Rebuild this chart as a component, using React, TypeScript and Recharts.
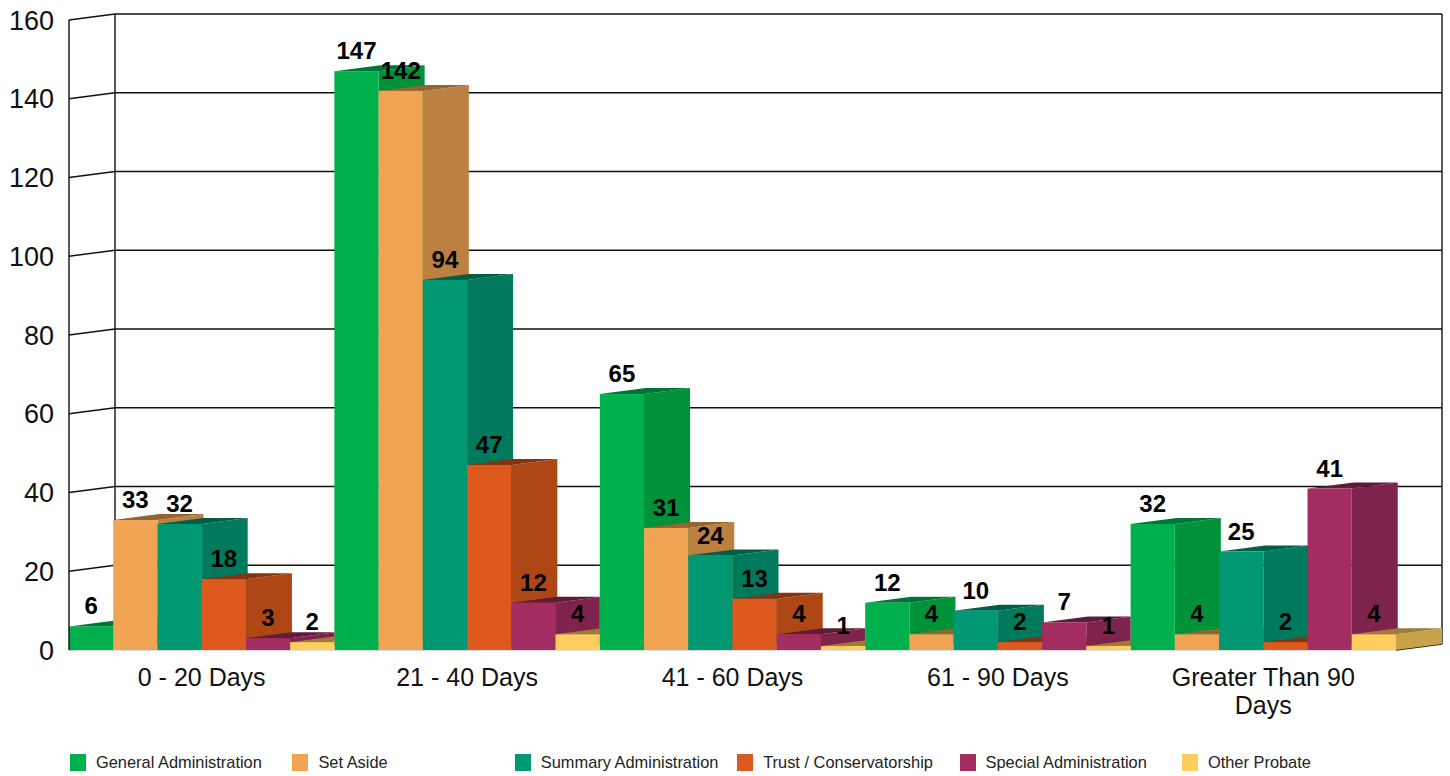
import React from 'react';
import { BarChart, Bar, XAxis, YAxis, CartesianGrid, Legend, LabelList } from 'recharts';

const categories = ['0 - 20 Days', '21 - 40 Days', '41 - 60 Days', '61 - 90 Days', 'Greater Than 90 Days'];
const generalAdministration = [6, 147, 65, 12, 32];
const setAside = [33, 142, 31, 4, 4];
const summaryAdministration = [32, 94, 24, 10, 25];
const trustConservatorship = [18, 47, 13, 2, 2];
const specialAdministration = [3, 12, 4, 7, 41];
const otherProbate = [2, 4, 1, 1, 4];
const yTicks = [0, 20, 40, 60, 80, 100, 120, 140, 160];

const data = categories.map((category, i) => ({
  category,
  general: generalAdministration[i],
  setAside: setAside[i],
  summary: summaryAdministration[i],
  trust: trustConservatorship[i],
  special: specialAdministration[i],
  other: otherProbate[i],
}));

const DX = 46;
const DY = 6;
const FONT = '"Liberation Sans", Arial, sans-serif';
const LAST = categories[categories.length - 1];

type Limit = 'none' | 'two' | 'one';

const makeShape = (side: string, top: string, limit: Limit, idBase: string) => (p: any) => {
  const { x, y, width: w, height: h, fill, payload } = p;
  const bottom = y + h;
  const isLast = payload?.category === LAST;
  const span = isLast || limit === 'none' ? w + DX + 2 : limit === 'two' ? 2 * w : w;
  const id = `clip-${idBase}-${categories.indexOf(payload?.category)}`;
  return (
    <g>
      <clipPath id={id}>
        <rect x={x} y={0} width={span} height={776} />
      </clipPath>
      <g clipPath={`url(#${id})`}>
        <polygon points={`${x + w},${y} ${x + w + DX},${y - DY} ${x + w + DX},${bottom - DY} ${x + w},${bottom}`} fill={side} />
        <polygon points={`${x},${y} ${x + w},${y} ${x + w + DX},${y - DY} ${x + DX},${y - DY}`} fill={top} />
      </g>
      <rect x={x} y={y} width={w} height={h} fill={fill} />
    </g>
  );
};

const series = [
  { key: 'general', name: 'General Administration', fill: '#00B04C', side: '#009238', top: '#00753A', limit: 'none' as Limit },
  { key: 'setAside', name: 'Set Aside', fill: '#F0A453', side: '#BC8040', top: '#93652F', limit: 'none' as Limit },
  { key: 'summary', name: 'Summary Administration', fill: '#009873', side: '#007A5C', top: '#005F47', limit: 'none' as Limit },
  { key: 'trust', name: 'Trust / Conservatorship', fill: '#DE591E', side: '#AE4616', top: '#833412', limit: 'none' as Limit },
  { key: 'special', name: 'Special Administration', fill: '#A32D61', side: '#7E234C', top: '#611B3A', limit: 'two' as Limit },
  { key: 'other', name: 'Other Probate', fill: '#FFCE5F', side: '#C8A24A', top: '#9B7D38', limit: 'one' as Limit },
];

const BarLabel = (p: any) => (
  <text x={p.x + p.width / 2} y={p.y - 12} textAnchor="middle" fontFamily={FONT} fontWeight="bold" fontSize={24} fill="#000">
    {p.value}
  </text>
);

const CategoryTick = (p: any) => {
  const label: string = p.payload.value;
  const words = label.split(' ');
  const lines = label.length > 15 ? [words.slice(0, -1).join(' '), words[words.length - 1]] : [label];
  return (
    <text x={p.x} y={p.y} textAnchor="middle" fontFamily={FONT} fontSize={25} fill="#111">
      {lines.map((l, i) => (
        <tspan key={i} x={p.x} dy={28}>{l}</tspan>
      ))}
    </text>
  );
};

const GridH = (p: any) => {
  const { x1, y1, x2 } = p;
  const floor = Math.abs(y1 - (p.y + p.height)) < 1;
  return (
    <g key={p.key ?? y1}>
      <polyline points={`${x1},${y1} ${x1 + DX},${y1 - DY} ${x2 + DX},${y1 - DY}`} fill="none" stroke="#111" strokeWidth={1.4} />
      {floor && <line x1={x1} y1={y1} x2={x2} y2={y1} stroke="#d4d4d4" strokeWidth={1.5} />}
      {floor && <line x1={x2} y1={y1} x2={x2 + DX} y2={y1 - DY} stroke="#111" strokeWidth={1.4} />}
    </g>
  );
};

const GridV = (p: any) => (
  <line key={p.key ?? p.x1} x1={p.x1 + DX} y1={p.y1 - DY} x2={p.x2 + DX} y2={p.y2 - DY} stroke="#111" strokeWidth={1.4} />
);

const LegendContent = (p: any) => (
  <div style={{ display: 'flex', height: 28, paddingTop: 2, alignItems: 'center', paddingLeft: 70, fontFamily: FONT, fontSize: 16.4, color: '#222' }}>
    {(p.payload || []).map((it: any) => (
      <div key={it.value} style={{ width: 222.4, flex: 'none', display: 'flex', alignItems: 'center' }}>
        <span style={{ width: 16, height: 17, background: it.color, display: 'inline-block', marginRight: 10 }} />
        <span>{it.value}</span>
      </div>
    ))}
  </div>
);

export default function App() {
  return (
    <div style={{ position: 'absolute', left: 0, top: 0, width: 1450, height: 776 }}>
      <BarChart
        width={1450}
        height={776}
        data={data}
        margin={{ top: 20, right: 54, bottom: 0, left: 0 }}
        barCategoryGap={0}
        barGap={0}
        barSize={44.23}
      >
        <CartesianGrid horizontal={GridH} vertical={GridV} verticalPoints={[69, 1396]} syncWithTicks={false} />
        <XAxis dataKey="category" height={96} axisLine={false} tickLine={false} tick={CategoryTick} interval={0} />
        <YAxis
          width={69}
          domain={[0, 160]}
          ticks={yTicks}
          interval={0}
          tickLine={false}
          tickSize={15}
          tickMargin={0}
          axisLine={{ stroke: '#111', strokeWidth: 1.4 }}
          tick={{ fontFamily: FONT, fontSize: 27, fill: '#111' }}
        />
        <Legend content={LegendContent} verticalAlign="bottom" height={30} itemSorter={null} />
        {series.map((s) => (
          <Bar key={s.key} dataKey={s.key} name={s.name} fill={s.fill} isAnimationActive={false} shape={makeShape(s.side, s.top, s.limit, s.key)}>
            <LabelList dataKey={s.key} content={BarLabel} />
          </Bar>
        ))}
      </BarChart>
    </div>
  );
}
